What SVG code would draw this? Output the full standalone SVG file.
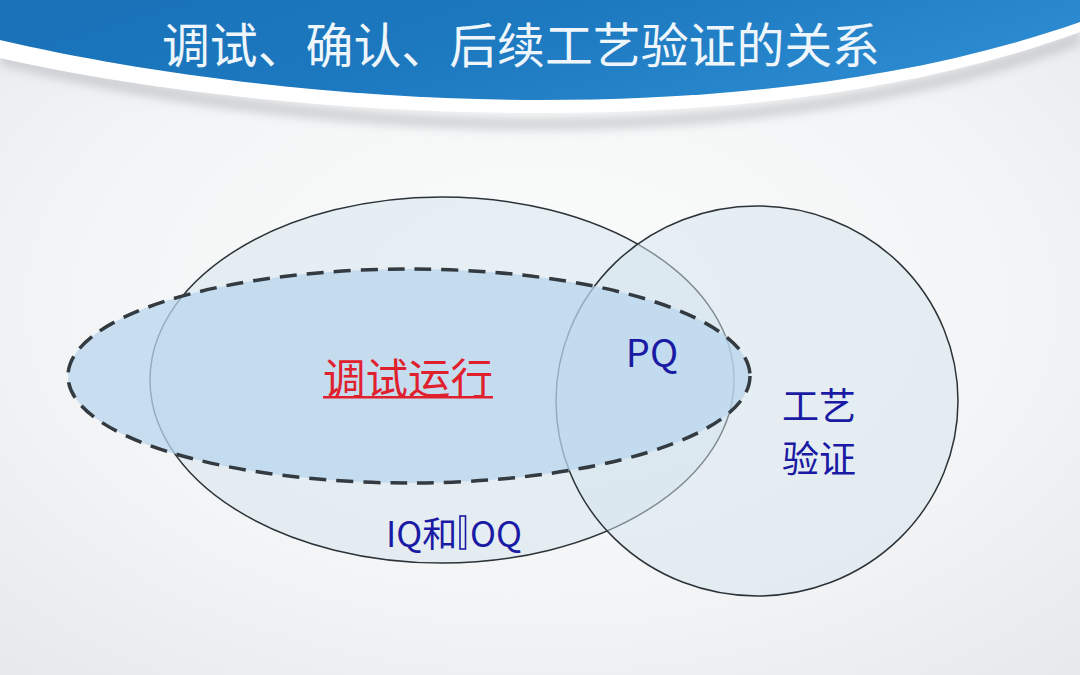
<svg xmlns="http://www.w3.org/2000/svg" width="1080" height="675" viewBox="0 0 1080 675">
  <defs>
    <radialGradient id="bg" cx="0.5" cy="0.45" r="0.75">
      <stop offset="0" stop-color="#fbfcfc"/>
      <stop offset="0.6" stop-color="#f3f4f5"/>
      <stop offset="1" stop-color="#e6e8ea"/>
    </radialGradient>
    <linearGradient id="blue" x1="0" y1="0" x2="1" y2="0.3">
      <stop offset="0" stop-color="#1a72b8"/>
      <stop offset="0.5" stop-color="#1c78bf"/>
      <stop offset="1" stop-color="#2b8ad0"/>
    </linearGradient>
    <filter id="shadow" x="-0.1" y="-0.5" width="1.2" height="2">
      <feGaussianBlur stdDeviation="5"/>
    </filter>
    <style>
      .outline { stroke: #2c3338; stroke-width: 1.5; }
      .lbl { font-family: "Noto Sans CJK SC", "Liberation Sans", sans-serif; fill: #1a1aa4; }
    </style>
  </defs>

  <rect width="1080" height="675" fill="url(#bg)"/>

  <g id="banner">
    <path d="M0,50 C150,90 350,118 540,118 C700,118 900,100 1080,30 L1080,45 C900,112 700,130 540,130 C350,130 150,105 0,65 Z" fill="#b8bcc0" opacity="0.6" filter="url(#shadow)"/>
    <path d="M0,40 C150,75 350,100 540,100 C700,100 900,85 1080,22 L1080,32 C900,98 700,113 540,113 C350,113 150,92 0,58 Z" fill="#ffffff"/>
    <path d="M0,0 H1080 V22 C900,85 700,100 540,100 C350,100 150,75 0,40 Z" fill="url(#blue)"/>
    <text x="521" y="63" text-anchor="middle" font-family="Noto Sans CJK SC, sans-serif" font-size="48" fill="#eef6fb" textLength="718" lengthAdjust="spacingAndGlyphs">调试、确认、后续工艺验证的关系</text>
  </g>

  <g id="iq-oq">
    <ellipse cx="442" cy="380" rx="292" ry="183" fill="#d4e3ee" fill-opacity="0.5" class="outline"/>
  </g>

  <g id="process-validation">
    <ellipse cx="757" cy="401" rx="201" ry="195" fill="#d4e3ee" fill-opacity="0.5" class="outline"/>
  </g>

  <g id="commissioning">
    <ellipse cx="409" cy="376" rx="341" ry="107" fill="#b9d6ee" fill-opacity="0.75" stroke="#333a40" stroke-width="3.5" stroke-dasharray="17 10"/>
  </g>

  <g id="labels">
    <text x="408" y="394" text-anchor="middle" font-family="Noto Sans CJK SC, sans-serif" font-size="42" fill="#e0202c" textLength="170" lengthAdjust="spacingAndGlyphs">调试运行</text>
    <rect x="323" y="396" width="170" height="2.5" fill="#e0202c"/>
    <text class="lbl" x="652" y="367" text-anchor="middle" font-size="38">PQ</text>
    <text class="lbl" x="819" y="420" text-anchor="middle" font-size="37">工艺</text>
    <text class="lbl" x="819" y="473" text-anchor="middle" font-size="37">验证</text>
    <text class="lbl" y="547" font-size="35"><tspan x="386">IQ和</tspan><tspan x="470">OQ</tspan></text>
    <rect x="460" y="516" width="5.5" height="33" fill="none" stroke="#1a1aa4" stroke-width="1.6"/>
  </g>
</svg>
